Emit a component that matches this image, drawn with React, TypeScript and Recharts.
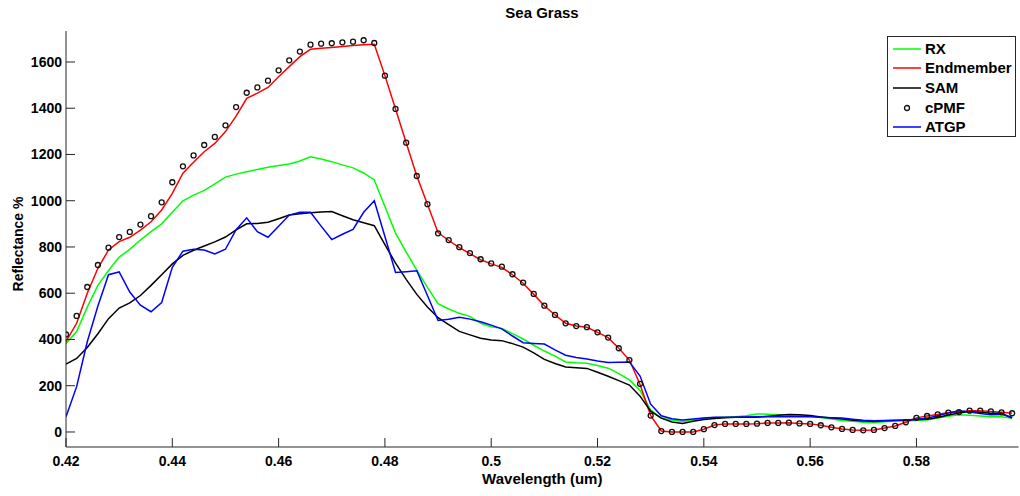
import React from 'react';
import { ComposedChart, Line, XAxis, YAxis } from 'recharts';

// band centres (um)
const WL = [
  0.420, 0.422, 0.424, 0.426, 0.428, 0.430, 0.432, 0.434, 0.436, 0.438,
  0.440, 0.442, 0.444, 0.446, 0.448, 0.450, 0.452, 0.454, 0.456, 0.458,
  0.460, 0.462, 0.464, 0.466, 0.468, 0.470, 0.472, 0.474, 0.476, 0.478,
  0.480, 0.482, 0.484, 0.486, 0.488, 0.490, 0.492, 0.494, 0.496, 0.498,
  0.500, 0.502, 0.504, 0.506, 0.508, 0.510, 0.512, 0.514, 0.516, 0.518,
  0.520, 0.522, 0.524, 0.526, 0.528, 0.530, 0.532, 0.534, 0.536, 0.538,
  0.540, 0.542, 0.544, 0.546, 0.548, 0.550, 0.552, 0.554, 0.556, 0.558,
  0.560, 0.562, 0.564, 0.566, 0.568, 0.570, 0.572, 0.574, 0.576, 0.578,
  0.580, 0.582, 0.584, 0.586, 0.588, 0.590, 0.592, 0.594, 0.596, 0.598,
];

const RX = [
  383, 434, 540, 634, 698, 756, 790, 830, 866, 900,
  950, 1000, 1024, 1045, 1073, 1102, 1115, 1125, 1135, 1145,
  1152, 1159, 1172, 1190, 1180, 1169, 1155, 1142, 1120, 1090,
  975, 860, 778, 700, 625, 555, 532, 513, 500, 470,
  455, 448, 425, 402, 375, 350, 328, 303, 299, 297,
  287, 276, 252, 225, 180, 95, 60, 52, 45, 52,
  59, 62, 64, 66, 70, 78, 77, 74, 72, 70,
  69, 63, 56, 50, 46, 42, 40, 44, 47, 49,
  50, 52, 60, 68, 74, 72, 69, 66, 66, 59,
];

const ENDMEMBER = [
  391, 470, 600, 708, 787, 823, 842, 873, 909, 960,
  1032, 1119, 1166, 1212, 1248, 1299, 1366, 1443, 1465, 1490,
  1536, 1580, 1623, 1655, 1659, 1663, 1667, 1671, 1675, 1677,
  1541, 1397, 1251, 1107, 985, 862, 828, 797, 771, 745,
  727, 712, 680, 643, 595, 546, 506, 470, 458, 453,
  431, 408, 362, 311, 205, 71, 4, 0, 0, 0,
  12, 30, 35, 35, 35, 36, 39, 39, 40, 37,
  35, 29, 20, 13, 9, 7, 9, 17, 26, 42,
  61, 69, 76, 84, 86, 92, 92, 89, 85, 81,
];

const SAM = [
  294, 318, 365, 425, 490, 536, 558, 590, 634, 680,
  727, 764, 786, 804, 822, 843, 874, 900, 902, 907,
  922, 938, 944, 948, 951, 953, 935, 918, 905, 892,
  810, 730, 660, 595, 540, 494, 464, 435, 420, 405,
  398, 395, 382, 367, 342, 314, 296, 281, 278, 275,
  258, 241, 222, 203, 155, 90, 60, 43, 37, 46,
  54, 58, 62, 64, 64, 64, 68, 72, 76, 74,
  71, 65, 60, 56, 51, 47, 45, 48, 50, 52,
  54, 55, 63, 73, 82, 88, 85, 81, 81, 60,
];

const CPMF = [
  422, 502, 627, 722, 797, 843, 865, 897, 933, 993,
  1080, 1149, 1196, 1241, 1276, 1326, 1405, 1467, 1490, 1519,
  1564, 1607, 1645, 1675, 1679, 1681, 1685, 1688, 1694, 1682,
  1541, 1397, 1251, 1107, 985, 859, 830, 799, 773, 747,
  729, 715, 682, 646, 597, 546, 506, 470, 458, 453,
  431, 408, 362, 311, 208, 71, 4, 0, 0, 0,
  12, 30, 35, 35, 35, 36, 39, 39, 40, 37,
  35, 29, 20, 13, 9, 7, 9, 17, 26, 42,
  61, 69, 76, 84, 86, 92, 92, 89, 85, 81,
];

const ATGP = [
  66, 196, 390, 545, 680, 692, 605, 548, 520, 560,
  712, 782, 790, 787, 770, 790, 875, 926, 866, 842,
  890, 938, 950, 950, 890, 832, 855, 876, 950, 1000,
  845, 690, 693, 697, 590, 482, 487, 496, 488, 477,
  462, 446, 415, 386, 383, 380, 355, 332, 322, 316,
  307, 300, 302, 303, 242, 120, 70, 57, 52, 56,
  60, 64, 64, 64, 65, 66, 66, 66, 66, 66,
  66, 64, 62, 60, 55, 51, 49, 50, 51, 52,
  55, 59, 70, 82, 92, 86, 80, 75, 76, 64,
];

const X_TICKS = [0.42, 0.44, 0.46, 0.48, 0.5, 0.52, 0.54, 0.56, 0.58];
const Y_TICKS = [0, 200, 400, 600, 800, 1000, 1200, 1400, 1600];

const X_DOMAIN = [0.42, 0.5992];
const Y_DOMAIN = [-65, 1734];

const chartData = WL.map((wl, i) => ({
  wl,
  rx: RX[i],
  endmember: ENDMEMBER[i],
  sam: SAM[i],
  cpmf: CPMF[i],
  atgp: ATGP[i],
}));

const FONT = '"Liberation Sans", Arial, sans-serif';
const AXIS_COLOR = '#262626';
const tickStyle = { fontSize: 14, fontWeight: 700, fill: '#000', fontFamily: FONT };

const LEGEND = [
  { name: 'RX', color: '#00ff00', kind: 'line' },
  { name: 'Endmember', color: '#ff0000', kind: 'line' },
  { name: 'SAM', color: '#000000', kind: 'line' },
  { name: 'cPMF', color: '#000000', kind: 'dot' },
  { name: 'ATGP', color: '#0000ff', kind: 'line' },
];

const ChartLegend = () => (
  <div
    style={{
      position: 'absolute',
      left: 887,
      top: 36,
      width: 129,
      height: 101,
      border: `1px solid ${AXIS_COLOR}`,
      background: '#fff',
      boxSizing: 'border-box',
      paddingTop: 2,
      fontFamily: FONT,
      fontWeight: 700,
      fontSize: 15,
    }}
  >
    {LEGEND.map((item) => (
      <div key={item.name} style={{ display: 'flex', alignItems: 'center', height: 19.6 }}>
        <svg width={37} height={10} style={{ flex: 'none' }}>
          {item.kind === 'line' ? (
            <line x1={5} x2={33} y1={5} y2={5} stroke={item.color} strokeWidth={1.5} />
          ) : (
            <circle cx={19} cy={5} r={2.5} fill="none" stroke="#111" strokeWidth={1.3} />
          )}
        </svg>
        <span style={{ lineHeight: '16px' }}>{item.name}</span>
      </div>
    ))}
  </div>
);

export default function App() {
  return (
    <div style={{ position: 'absolute', left: 0, top: 0, width: 1020, height: 496, background: '#fff' }}>
      <div
        style={{
          position: 'absolute',
          left: 442,
          top: 4,
          width: 200,
          textAlign: 'center',
          fontFamily: FONT,
          fontWeight: 700,
          fontSize: 15,
          lineHeight: '17px',
          color: '#000',
        }}
      >
        Sea Grass
      </div>
      <ComposedChart
        width={1020}
        height={496}
        data={chartData}
        margin={{ top: 31, right: 1.5, bottom: 0, left: 0 }}
      >
        <XAxis
          dataKey="wl"
          type="number"
          domain={X_DOMAIN}
          allowDataOverflow
          ticks={X_TICKS}
          interval={0}
          height={49}
          tickSize={-9}
          tickMargin={18}
          tick={tickStyle}
          stroke={AXIS_COLOR}
          tickLine={{ stroke: AXIS_COLOR }}
          label={{
            content: ({ viewBox }: any) => (
              <text
                x={viewBox.x + viewBox.width / 2}
                y={viewBox.y + 37}
                textAnchor="middle"
                fontFamily={FONT}
                fontWeight={700}
                fontSize={15}
                fill="#000"
              >
                Wavelength (um)
              </text>
            ),
          }}
        />
        <XAxis
          xAxisId="top"
          orientation="top"
          dataKey="wl"
          type="number"
          domain={X_DOMAIN}
          allowDataOverflow
          ticks={X_TICKS}
          interval={0}
          height={0}
          tickSize={-9}
          tick={false}
          stroke={AXIS_COLOR}
        />
        <YAxis
          type="number"
          domain={Y_DOMAIN}
          allowDataOverflow
          ticks={Y_TICKS}
          interval={0}
          width={66}
          tickSize={-9}
          tickMargin={13}
          tick={tickStyle}
          stroke={AXIS_COLOR}
          label={{
            content: ({ viewBox }: any) => {
              const x = viewBox.x + 23;
              const y = viewBox.y + viewBox.height / 2 + 5;
              return (
                <text
                  x={x}
                  y={y}
                  transform={`rotate(-90 ${x} ${y})`}
                  textAnchor="middle"
                  fontFamily={FONT}
                  fontWeight={700}
                  fontSize={14}
                  fill="#000"
                >
                  Reflectance %
                </text>
              );
            },
          }}
        />
        <YAxis
          yAxisId="right"
          orientation="right"
          type="number"
          domain={Y_DOMAIN}
          allowDataOverflow
          ticks={Y_TICKS}
          interval={0}
          width={0}
          tickSize={-9}
          tick={false}
          stroke={AXIS_COLOR}
        />
        <Line dataKey="rx" stroke="#00ff00" strokeWidth={1.5} dot={false} isAnimationActive={false} />
        <Line dataKey="endmember" stroke="#ff0000" strokeWidth={1.5} dot={false} isAnimationActive={false} />
        <Line dataKey="sam" stroke="#000000" strokeWidth={1.5} dot={false} isAnimationActive={false} />
        <Line
          dataKey="cpmf"
          stroke="none"
          dot={{ r: 2.5, fill: 'none', stroke: '#111', strokeWidth: 1.3 }}
          isAnimationActive={false}
        />
        <Line dataKey="atgp" stroke="#0000ff" strokeWidth={1.5} dot={false} isAnimationActive={false} />
      </ComposedChart>
      <ChartLegend />
    </div>
  );
}
